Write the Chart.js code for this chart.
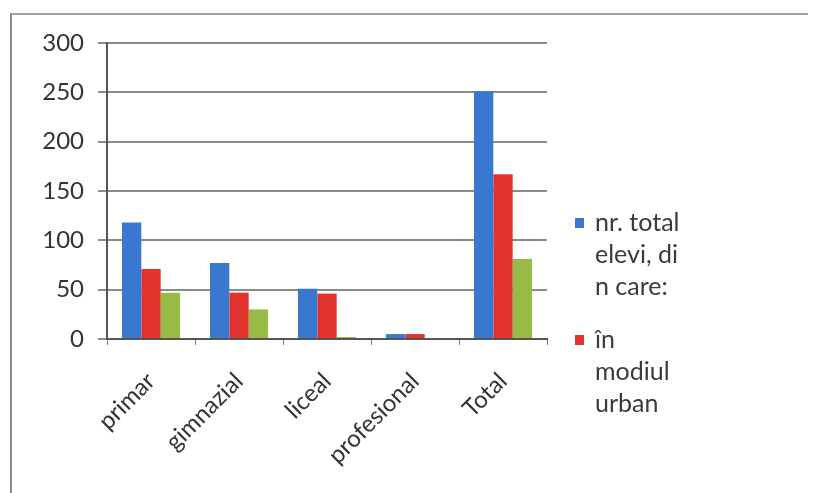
<!DOCTYPE html>
<html lang="ro">
<head>
    <meta charset="UTF-8">
    <title>Elevi pe niveluri</title>
    <style>
        body {
            margin: 0;
            background: #fff;
            font-family: Lato, sans-serif;
        }
        #frame {
            position: absolute;
            left: 10px;
            top: 13px;
            width: 796px;
            height: 480px;
            border-top: 2px solid #a0a0a0;
            border-left: 2px solid #8a8a8a;
        }
        #wrap {
            position: absolute;
            left: 0;
            top: 0;
            width: 814px;
            height: 493px;
        }
    </style>
</head>
<body>
    <div id="frame"></div>
    <div id="wrap"><canvas id="chart" width="814" height="493"></canvas></div>

    <script src="https://cdn.jsdelivr.net/npm/chart.js"></script>
    <script>
        const categories = ['primar', 'gimnazial', 'liceal', 'profesional', 'Total'];
        const totalElevi = [118, 77, 51, 5, 251];
        const mediulUrban = [71, 47, 46, 5, 167];
        const mediulRural = [47, 30, 2, 1, 81];
        const yTicks = [0, 50, 100, 150, 200, 250, 300];

        // legend lines, wrapped like in the original picture
        const legendItems = [
            { color: '#3a78d0', lines: ['nr. total', 'elevi, di', 'n care:'] },
            { color: '#e3342f', lines: ['în', 'modiul', 'urban'] }
        ];

        const sideLegend = {
            id: 'sideLegend',
            afterDraw(chart) {
                const ctx = chart.ctx;
                const x = chart.chartArea.right + 28;
                let y = 223;
                ctx.save();
                ctx.font = '25px Lato, sans-serif';
                ctx.textBaseline = 'middle';
                legendItems.forEach(item => {
                    ctx.fillStyle = item.color;
                    ctx.fillRect(x, y - 5, 9, 10);
                    ctx.fillStyle = '#3a3a3a';
                    item.lines.forEach(line => {
                        ctx.fillText(line, x + 20, y);
                        y += 32;
                    });
                    y += 21;
                });
                ctx.restore();
            }
        };

        new Chart(document.getElementById('chart'), {
            type: 'bar',
            data: {
                labels: categories,
                datasets: [
                    { label: 'nr. total elevi, din care:', data: totalElevi, backgroundColor: '#3a78d0' },
                    { label: 'în mediul urban', data: mediulUrban, backgroundColor: '#e3342f' },
                    { label: 'în mediul rural', data: mediulRural, backgroundColor: '#98bb48' }
                ]
            },
            options: {
                responsive: false,
                animation: false,
                layout: { padding: { top: 43, right: 267, left: 0, bottom: 0 } },
                datasets: {
                    bar: { categoryPercentage: 0.66, barPercentage: 1.0 }
                },
                plugins: {
                    legend: { display: false },
                    tooltip: { enabled: false }
                },
                scales: {
                    x: {
                        grid: {
                            drawOnChartArea: false,
                            drawTicks: true,
                            tickLength: 6,
                            color: '#777'
                        },
                        border: { color: '#555', width: 2 },
                        ticks: {
                            minRotation: 45,
                            maxRotation: 45,
                            padding: 22,
                            color: '#333',
                            font: { family: 'Lato', size: 24 }
                        },
                        afterFit(scale) { scale.height = 154; }
                    },
                    y: {
                        min: 0,
                        max: 300,
                        afterBuildTicks(scale) {
                            scale.ticks = yTicks.map(v => ({ value: v }));
                        },
                        grid: {
                            color: '#8a8a8a',
                            lineWidth: 2,
                            tickLength: 9
                        },
                        border: { color: '#555', width: 2 },
                        ticks: {
                            padding: 14,
                            color: '#333',
                            font: { family: 'Lato', size: 24 }
                        },
                        afterFit(scale) { scale.width = 107; }
                    }
                }
            },
            plugins: [sideLegend]
        });
    </script>
</body>
</html>
